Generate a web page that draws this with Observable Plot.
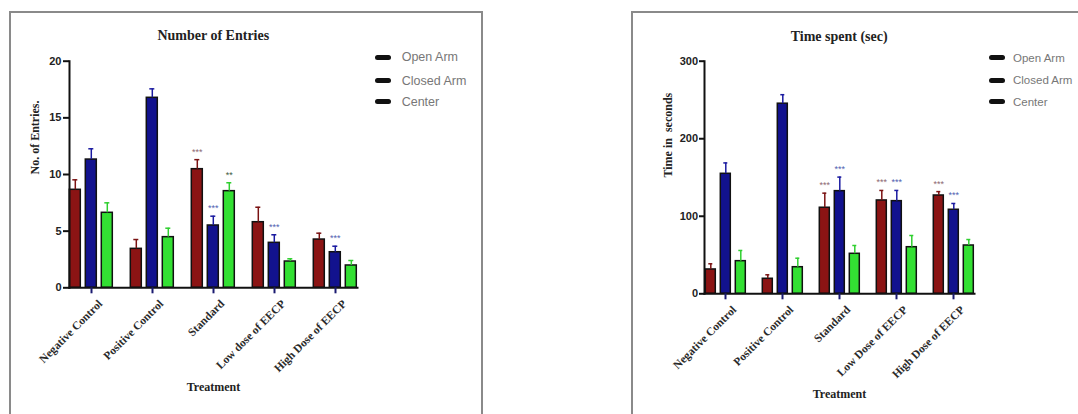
<!DOCTYPE html>
<html>
<head>
<meta charset="utf-8">
<script src="https://cdn.jsdelivr.net/npm/d3@7"></script>
<script src="https://cdn.jsdelivr.net/npm/@observablehq/plot@0.6"></script>
<style>
  html, body { margin: 0; padding: 0; background: #fff; }
  #page { position: relative; width: 1078px; height: 414px; overflow: hidden; background: #fff; }
  .box { position: absolute; border: 2px solid #8a8a8a; box-sizing: border-box; }
  .title { position: absolute; font-family: "Liberation Serif", "Times New Roman", serif; font-weight: bold;
           font-size: 14px; color: #222; transform: translate(-50%, -50%); white-space: nowrap; }
  .legrow { position: absolute; display: flex; align-items: center; white-space: nowrap; transform: translateY(-50%);
            font-family: "Liberation Sans", Arial, sans-serif; color: #777; }
  .sw { display: inline-block; width: 16px; height: 5px; border-radius: 2.5px; background: #111; }
</style>
</head>
<body>
<div id="page"></div>
<script>
// ---------- data ----------
const series = ["Open Arm", "Closed Arm", "Center"];

// Panel A: Number of Entries
const entriesTitle = "Number of Entries";
const entriesYLabel = "No. of Entries.";
const entriesXLabel = "Treatment";
const entriesGroups = ["Negative Control", "Positive Control", "Standard", "Low dose of EECP", "High Dose of EECP"];
const entriesTicks = [0, 5, 10, 15, 20];
const entriesOpen      = [8.65, 3.44, 10.47, 5.79, 4.26];
const entriesOpenSem   = [0.88, 0.82, 0.84, 1.32, 0.56];
const entriesOpenSig   = ["", "", "***", "", ""];
const entriesClosed    = [11.32, 16.77, 5.5, 3.97, 3.14];
const entriesClosedSem = [0.95, 0.79, 0.82, 0.71, 0.53];
const entriesClosedSig = ["", "", "***", "***", "***"];
const entriesCenter    = [6.62, 4.47, 8.53, 2.32, 1.97];
const entriesCenterSem = [0.88, 0.79, 0.74, 0.24, 0.44];
const entriesCenterSig = ["", "", "**", "", ""];

// Panel B: Time spent (sec)
const timeTitle = "Time spent (sec)";
const timeYLabel = "Time in  seconds";
const timeXLabel = "Treatment";
const timeGroups = ["Negative Control", "Positive Control", "Standard", "Low Dose of EECP", "High Dose of EECP"];
const timeTicks = [0, 100, 200, 300];
const timeOpen      = [31.4, 19.4, 111, 120.4, 126.8];
const timeOpenSem   = [7.3, 5.1, 18.8, 12.9, 5.0];
const timeOpenSig   = ["", "", "***", "***", "***"];
const timeClosed    = [154.8, 245.2, 132.4, 119.5, 108.4];
const timeClosedSem = [14, 11.6, 18.1, 13.8, 8.1];
const timeClosedSig = ["", "", "***", "***", "***"];
const timeCenter    = [42.1, 34.3, 51.6, 60.1, 62.3];
const timeCenterSem = [13.8, 11.6, 10.7, 15.1, 7.7];
const timeCenterSig = ["", "", "", "", ""];

// ---------- styles ----------
const barColors  = ["#8b1414", "#12128e", "#33e033"];
const errColors  = ["#7a1212", "#1a1aa0", "#2fcf2f"];
const starColors = ["#8d6870", "#5060b0", "#3d5a3d"];
const serif = "'Liberation Serif', 'Times New Roman', serif";
const sans = "'Liberation Sans', Arial, sans-serif";

function buildRows(groups, vals, sems, sigs) {
  return groups.flatMap((g, i) => series.map((s, j) => ({
    group: g, series: s, value: vals[j][i], sem: sems[j][i], sig: sigs[j][i]
  })));
}

function chart(cfg) {
  const data = buildRows(cfg.groups, cfg.vals, cfg.sems, cfg.sigs);
  const top = d => d.value + d.sem;
  const perSeries = [];
  series.forEach((s, j) => {
    const sub = data.filter(d => d.series === s);
    perSeries.push(
      Plot.ruleX(sub, {fx: "group", x: "series", y1: "value", y2: top, stroke: errColors[j], strokeWidth: 1.5}),
      Plot.tickY(sub, {fx: "group", x: "series", y: top, stroke: errColors[j], strokeWidth: 1.5, insetLeft: 3, insetRight: 3}),
      Plot.text(sub.filter(d => d.sig), {fx: "group", x: "series", y: top, text: "sig", dy: -8,
        fill: starColors[j], fontSize: 9, fontFamily: sans})
    );
  });
  return Plot.plot({
    width: cfg.width, height: 414,
    marginLeft: cfg.ml, marginRight: cfg.mr, marginTop: cfg.mt, marginBottom: cfg.mb,
    style: {background: "transparent", overflow: "visible", fontFamily: sans},
    fx: {domain: cfg.groups, paddingInner: cfg.fxIn, paddingOuter: cfg.fxOut, label: null},
    x: {domain: series, paddingInner: cfg.xIn, paddingOuter: 0, axis: null},
    y: {domain: [0, cfg.ticks[cfg.ticks.length - 1]], axis: null},
    color: {domain: series, range: barColors},
    marks: [
      Plot.barY(data, {fx: "group", x: "series", y: "value", fill: "series", stroke: "#111", strokeWidth: 1.5}),
      ...perSeries,
      Plot.frame({anchor: "left", facet: "super", stroke: "#111", strokeWidth: 2}),
      Plot.frame({anchor: "bottom", facet: "super", stroke: "#111", strokeWidth: 2}),
      Plot.axisY({ticks: cfg.ticks, tickFormat: d => String(d), tickSize: cfg.tickSize, tickPadding: cfg.tickPad,
        strokeWidth: 2, stroke: "#111", fill: "#222", fontSize: 11, fontWeight: "bold", fontFamily: sans, label: null}),
      Plot.axisFx({anchor: "bottom", tickSize: 6, fill: "none", stroke: "#1a1a70", strokeWidth: 2, label: null}),
      Plot.axisFx({anchor: "bottom", tickSize: 6, tickPadding: 3, tickRotate: -45, stroke: "none",
        fill: "#2a2a2a", fontSize: 11.5, fontWeight: "bold", fontFamily: serif, label: null, dx: cfg.lblDx, dy: cfg.lblDy}),
      Plot.text([cfg.yLabel], {text: d => d, frameAnchor: "left", rotate: -90, dx: cfg.yLabDx, facet: "super",
        fontSize: 12, fontWeight: "bold", fontFamily: serif, fill: "#222"}),
      Plot.text([cfg.xLabel], {text: d => d, frameAnchor: "bottom", dy: cfg.xLabDy, facet: "super",
        fontSize: 12, fontWeight: "bold", fontFamily: serif, fill: "#222"})
    ]
  });
}

const page = document.getElementById("page");
function addBox(l, t, w, h) {
  const b = document.createElement("div");
  b.className = "box";
  Object.assign(b.style, {left: l + "px", top: t + "px", width: w + "px", height: h + "px"});
  page.append(b);
}
addBox(9, 11, 474, 420);
addBox(631, 11, 500, 420);

const plotA = chart({
  groups: entriesGroups, ticks: entriesTicks,
  vals: [entriesOpen, entriesClosed, entriesCenter],
  sems: [entriesOpenSem, entriesClosedSem, entriesCenterSem],
  sigs: [entriesOpenSig, entriesClosedSig, entriesCenterSig],
  yLabel: entriesYLabel, xLabel: entriesXLabel,
  width: 480, ml: 61.7, mr: 115, mt: 60.7, mb: 126.7,
  fxIn: 0.271, fxOut: 0.0915, xIn: 0.327,
  tickSize: 6, tickPad: 2, lblDx: 9, lblDy: 5, yLabDx: -34, xLabDy: 102.7
});
Object.assign(plotA.style, {position: "absolute", left: "0px", top: "0px"});
page.append(plotA);

const plotB = chart({
  groups: timeGroups, ticks: timeTicks,
  vals: [timeOpen, timeClosed, timeCenter],
  sems: [timeOpenSem, timeClosedSem, timeCenterSem],
  sigs: [timeOpenSig, timeClosedSig, timeCenterSig],
  yLabel: timeYLabel, xLabel: timeXLabel,
  width: 478, ml: 96.7, mr: 96.3, mt: 60.7, mb: 120.7,
  fxIn: 0.263, fxOut: 0.107, xIn: 0.344,
  tickSize: 5, tickPad: 1.5, lblDx: 9, lblDy: 5, yLabDx: -36.7, xLabDy: 103.7
});
Object.assign(plotB.style, {position: "absolute", left: "600px", top: "0px"});
page.append(plotB);

function addTitle(text, cx, cy) {
  const t = document.createElement("div");
  t.className = "title";
  t.textContent = text;
  Object.assign(t.style, {left: cx + "px", top: cy + "px"});
  page.append(t);
}
addTitle(entriesTitle, 213.3, 36);
addTitle(timeTitle, 839.2, 36.5);

function addLegend(x, ys, gap, size) {
  series.forEach((s, j) => {
    const r = document.createElement("div");
    r.className = "legrow";
    Object.assign(r.style, {left: x + "px", top: ys[j] + "px", fontSize: size + "px"});
    const sw = document.createElement("span");
    sw.className = "sw";
    sw.style.marginRight = gap + "px";
    const tx = document.createElement("span");
    tx.textContent = s;
    r.append(sw, tx);
    page.append(r);
  });
}
addLegend(375, [57.3, 80.5, 101.5], 10.7, 12.5);
addLegend(989, [57.7, 80, 101.5], 8, 11.5);
</script>
</body>
</html>
